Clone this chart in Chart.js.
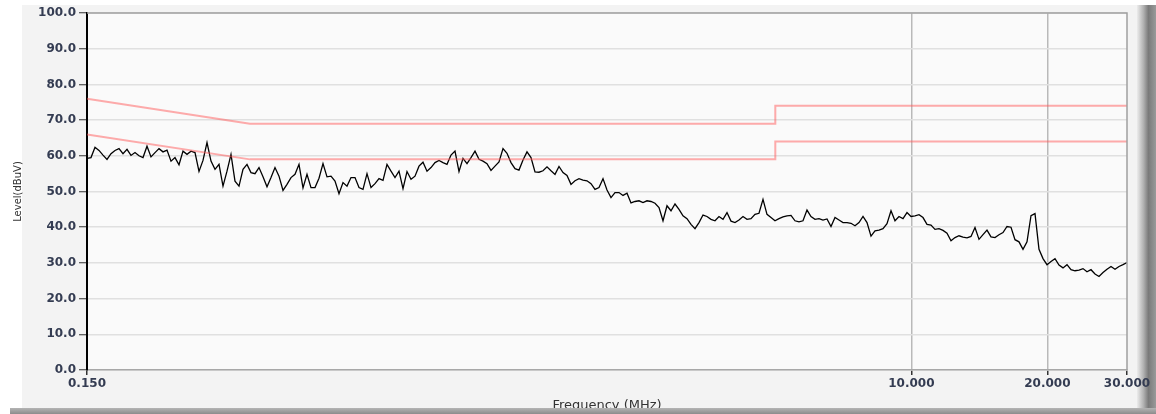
<!DOCTYPE html>
<html>
<head>
<meta charset="utf-8">
<script src="https://cdn.jsdelivr.net/npm/chart.js@4.4.1/dist/chart.umd.min.js"></script>
<style>
  html, body { margin: 0; padding: 0; background: #ffffff; }
  canvas { display: block; }
</style>
</head>
<body>
<canvas id="c" width="1156" height="414"></canvas>
<script>
// ---- data ----
const xTickValues = [0.15, 10, 20, 30];
const xTickLabels = ['0.150', '10.000', '20.000', '30.000'];
const yTickStep = 10;

// limit lines (MHz / dBuV)
const upperLimitFreq  = [0.15, 0.344, 5, 5, 30];
const upperLimitLevel = [76, 69, 69, 74, 74];
const lowerLimitFreq  = [0.15, 0.344, 5, 5, 30];
const lowerLimitLevel = [66, 59, 59, 64, 64];

// receiver sweep settings (log sweep, 261 points)
const sweepStartMHz = 0.15;
const sweepStopMHz = 30;

// measured level (dBuV), one per sweep point
const measuredLevel = [
  59.3, 59.5, 62.4, 61.5, 60.2, 59.0, 60.6, 61.5, 62.0, 60.6,
  61.8, 60.1, 60.9, 60.0, 59.5, 62.7, 59.7, 60.9, 62.0, 61.1,
  61.6, 58.5, 59.5, 57.5, 61.3, 60.4, 61.3, 60.9, 55.6, 58.7,
  63.7, 58.5, 56.2, 57.6, 51.5, 55.7, 60.4, 52.9, 51.5, 56.2,
  57.6, 55.3, 55.0, 56.7, 54.1, 51.3, 53.9, 56.7, 54.3, 50.3,
  52.0, 53.9, 54.8,
  57.6, 51.0, 54.8, 51.1, 51.1, 53.7, 57.8, 54.1, 54.3, 52.9,
  49.4, 52.5, 51.5, 53.9, 53.9, 51.1, 50.6, 55.0, 51.1, 52.2,
  53.6, 53.1, 57.6, 55.7, 53.9, 55.7, 50.8, 55.6, 53.4, 54.3,
  57.1, 58.2, 55.7, 56.7, 58.1, 58.7, 58.1, 57.6, 60.2, 61.3,
  55.6, 59.3, 57.8, 59.5, 61.3, 59.0, 58.5, 57.8, 55.9, 57.1,
  58.3, 62.0, 60.7, 58.1, 56.4, 56.0, 58.8, 61.1, 59.5, 55.5,
  55.4, 55.8, 56.9, 55.8, 54.8, 57.0, 55.3, 54.5, 52.0, 53.0,
  53.6, 53.2, 53.0, 52.2, 50.6, 51.1, 53.6, 50.4, 48.3, 49.7,
  49.7, 48.9, 49.5, 46.8, 47.2, 47.4, 46.9, 47.4, 47.2, 46.7,
  45.5, 41.8, 46.0, 44.6, 46.5, 45.0, 43.2, 42.4, 40.8, 39.6,
  41.3, 43.4,
  43.0, 42.2, 41.8, 43.0, 42.2, 44.1, 41.7, 41.3, 42.0, 43.0,
  42.2, 42.4, 43.6, 43.9, 47.8, 43.6, 42.7, 41.8, 42.4, 42.9,
  43.2, 43.3, 41.8, 41.5, 41.8, 44.8, 43.0, 42.2, 42.4, 42.0,
  42.3, 40.2, 42.7, 42.0, 41.3, 41.3, 41.1, 40.4, 41.3, 43.0,
  41.3, 37.5, 39.0, 39.2, 39.6, 41.0, 44.6, 41.8, 43.0, 42.4,
  44.1, 43.0, 43.2, 43.5, 42.7, 40.8, 40.6, 39.4, 39.6, 39.1,
  38.3, 36.2, 37.1, 37.6, 37.2, 37.0, 37.4, 39.9, 36.6, 37.9,
  39.2, 37.3, 37.1, 37.9, 38.5, 40.2, 40.0, 36.5, 35.9, 33.8,
  35.9, 43.2, 43.8, 33.8, 31.2, 29.5, 30.4, 31.2, 29.4, 28.6,
  29.5, 28.1, 27.8, 28.0, 28.4, 27.5, 28.1, 26.9, 26.2, 27.3,
  28.2, 29.0, 28.2, 29.0, 29.5, 30.1
];

// ---- build datasets ----
const n = measuredLevel.length;
const sweepFreq = measuredLevel.map((_, i) =>
  sweepStartMHz * Math.pow(sweepStopMHz / sweepStartMHz, i / (n - 1)));
const tracePts = measuredLevel.map((v, i) => ({ x: sweepFreq[i], y: v }));
const upperPts = upperLimitFreq.map((f, i) => ({ x: f, y: upperLimitLevel[i] }));
const lowerPts = lowerLimitFreq.map((f, i) => ({ x: f, y: lowerLimitLevel[i] }));

const textColor = '#343c52';
const tickFont = { family: 'DejaVu Sans', size: 12, weight: 'bold' };

const framePlugin = {
  id: 'frame',
  beforeDraw(chart) {
    const { ctx, chartArea: a, width, height } = chart;
    ctx.save();
    ctx.fillStyle = '#ffffff';
    ctx.fillRect(0, 0, width, height);
    ctx.fillStyle = '#f3f3f3';
    ctx.fillRect(22, 5, 1115, 403);
    // right-hand shadow
    const g = ctx.createLinearGradient(1137, 0, 1156, 0);
    g.addColorStop(0, '#ececec');
    g.addColorStop(0.35, '#b0b0b0');
    g.addColorStop(0.6, '#7a7a7a');
    g.addColorStop(1, '#9a9a9a');
    ctx.fillStyle = g;
    ctx.fillRect(1137, 5, 19, 409);
    ctx.fillStyle = '#fafafa';
    ctx.fillRect(a.left, a.top, a.right - a.left, a.bottom - a.top);
    ctx.restore();
  },
  afterDraw(chart) {
    const { ctx, chartArea: a } = chart;
    ctx.save();
    ctx.strokeStyle = '#a0a0a0';
    ctx.lineWidth = 1.5;
    ctx.beginPath();
    ctx.moveTo(a.left, a.top);
    ctx.lineTo(a.right, a.top);
    ctx.lineTo(a.right, a.bottom);
    ctx.stroke();
    // bottom band
    const g = ctx.createLinearGradient(0, 408, 0, 414);
    g.addColorStop(0, '#b4b4b4');
    g.addColorStop(1, '#8c8c8c');
    ctx.fillStyle = g;
    ctx.fillRect(10, 408, 1146, 6);
    ctx.restore();
  }
};

new Chart(document.getElementById('c'), {
  type: 'scatter',
  data: {
    datasets: [
      { label: 'Upper limit', data: upperPts, showLine: true, borderColor: 'rgba(255,90,90,0.5)',
        borderWidth: 2, pointRadius: 0, tension: 0 },
      { label: 'Lower limit', data: lowerPts, showLine: true, borderColor: 'rgba(255,90,90,0.5)',
        borderWidth: 2, pointRadius: 0, tension: 0 },
      { label: 'Level', data: tracePts, showLine: true, borderColor: '#000000',
        borderWidth: 1.3, pointRadius: 0, tension: 0 }
    ]
  },
  options: {
    responsive: false,
    animation: false,
    devicePixelRatio: 1,
    layout: { padding: { left: 0, top: 13, right: 29, bottom: 0 } },
    plugins: { legend: { display: false }, tooltip: { enabled: false } },
    scales: {
      x: {
        type: 'logarithmic',
        min: sweepStartMHz,
        max: sweepStopMHz,
        afterBuildTicks: s => { s.ticks = xTickValues.map(v => ({ value: v })); },
        afterFit: s => { s.height = 44; },
        ticks: {
          autoSkip: false, maxRotation: 0, minRotation: 0, padding: 2,
          font: tickFont, color: textColor,
          callback: (v, i) => xTickLabels[i]
        },
        grid: {
          color: c => (c.tick && (c.tick.value === 10 || c.tick.value === 20)) ? '#b9b9b9' : 'rgba(0,0,0,0)',
          lineWidth: 1.5,
          tickColor: '#333333',
          tickWidth: 1.5,
          tickLength: 5
        },
        border: { color: '#a8a8a8', width: 1.5 },
        title: {
          display: true, text: 'Frequency (MHz)', color: '#333333',
          font: { family: 'DejaVu Sans', size: 13 },
          padding: { top: 0, bottom: 1 }
        }
      },
      y: {
        min: 0,
        max: 100,
        afterFit: s => { s.width = 87; },
        ticks: {
          stepSize: yTickStep, padding: 3,
          font: tickFont, color: textColor,
          callback: v => Number(v).toFixed(1)
        },
        grid: {
          color: '#e0e0e0',
          lineWidth: 1.5,
          tickColor: '#333333',
          tickWidth: 1,
          tickLength: 8
        },
        border: { color: '#000000', width: 2 },
        title: {
          display: true, text: 'Level(dBuV)', color: '#333333',
          font: { family: 'DejaVu Sans', size: 10 },
          padding: { top: 12, bottom: 0 }
        }
      }
    }
  },
  plugins: [framePlugin]
});
</script>
</body>
</html>
